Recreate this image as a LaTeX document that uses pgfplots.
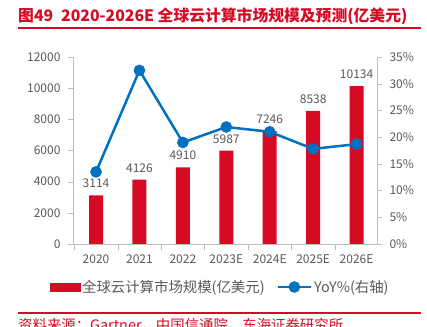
\documentclass[border=0pt]{standalone}
\usepackage{pgfplots}
\pgfplotsset{compat=1.18}
\usepackage{fontspec}
\setmainfont{Noto Sans CJK SC}
\definecolor{barred}{RGB}{215,10,35}
\definecolor{lineblue}{RGB}{0,112,192}
\definecolor{txtgray}{RGB}{89,89,89}
\definecolor{axgray}{RGB}{191,191,191}
\begin{document}
\begin{tikzpicture}
\path[use as bounding box] (0pt,0pt) rectangle (427pt,326pt);
% title
\node[anchor=west,inner sep=0,text=barred,font=\fontsize{15.8}{17}\selectfont\bfseries] at (18pt,310pt) {图49\enspace 2020-2026E 全球云计算市场规模及预测(亿美元)};
\draw[barred,line width=1.2pt] (18pt,298pt) -- (421pt,298pt);
% source
\draw[barred,line width=1.2pt] (18pt,13pt) -- (421pt,13pt);
\node[anchor=north west,inner sep=0,text=barred,font=\fontsize{14.4}{15}\selectfont] at (18pt,8pt) {资料来源：Gartner，中国信通院，东海证券研究所};
\begin{axis}[
  at={(73pt,82pt)}, anchor=south west,
  scale only axis, width=304pt, height=187pt,
  xmin=-0.53, xmax=6.47,
  ymin=0, ymax=12000,
  ytick={0,2000,...,12000},
  scaled y ticks=false,
  xtick={0,...,6},
  xticklabels={2020,2021,2022,2023E,2024E,2025E,2026E},
  minor xtick={-0.5,0.5,...,6.5},
  major x tick style={draw=none},
  minor x tick style={axgray},
  ytick style={axgray},
  tick align=outside,
  major tick length=5pt, minor tick length=6pt,
  axis x line*=bottom, axis y line*=left,
  axis line style={axgray,-},
  /pgf/number format/1000 sep={},
  /pgf/number format/assume math mode=true,
  tick label style={font=\fontsize{12}{13}\selectfont, text=txtgray},
  yticklabel style={xshift=-4pt},
  xticklabel style={yshift=-2pt},
  nodes near coords,
  nodes near coords style={font=\fontsize{12}{13}\selectfont, text=txtgray, /pgf/number format/1000 sep={}, /pgf/number format/assume math mode=true, yshift=4pt},
]
\addplot[ybar, bar width=14pt, fill=barred, draw=none] coordinates {(0,3114) (1,4126) (2,4910) (3,5987) (4,7246) (5,8538) (6,10134)};
\end{axis}
\begin{axis}[
  at={(73pt,82pt)}, anchor=south west,
  scale only axis, width=304pt, height=187pt,
  xmin=-0.53, xmax=6.47,
  ymin=0, ymax=35,
  ytick={0,5,...,35},
  yticklabel={\pgfmathprintnumber{\tick}\%},
  axis x line=none, axis y line*=right,
  axis line style={axgray,-},
  ytick style={axgray},
  tick align=outside, major tick length=5pt,
  /pgf/number format/assume math mode=true,
  tick label style={font=\fontsize{12}{13}\selectfont, text=txtgray},
  yticklabel style={xshift=4pt},
  legend style={at={(0.484,-0.23)}, anchor=center, draw=none, fill=none,
    font=\fontsize{14.4}{15}\selectfont, text=txtgray, legend columns=2,
    /tikz/every even column/.append style={column sep=10pt}},
  legend cell align=left,
]
\addlegendimage{legend image code/.code={\fill[barred] (0pt,-4pt) rectangle (30pt,4pt);}}
\addlegendentry{全球云计算市场规模(亿美元)}
\addplot[lineblue, line width=2.5pt, mark=*, mark size=4.5pt, mark options={fill=lineblue, draw=lineblue},
  legend image code/.code={\draw[lineblue, line width=2.5pt] (0pt,0pt) -- (33pt,0pt); \fill[lineblue] (16.5pt,0pt) circle (4.5pt);}]
  coordinates {(0,13.5) (1,32.5) (2,19.0) (3,21.9) (4,21.0) (5,17.8) (6,18.7)};
\addlegendentry{YoY\%(右轴)}
\end{axis}
\end{tikzpicture}
\end{document}
